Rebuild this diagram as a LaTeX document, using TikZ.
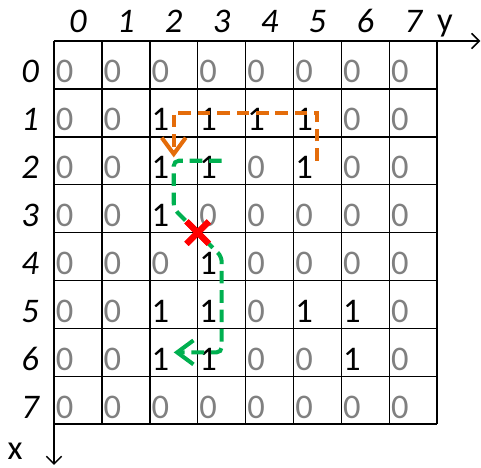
\documentclass[tikz,border=0pt]{standalone}
\usepackage{fontspec}
\setmainfont{Carlito}
\usetikzlibrary{arrows.meta,shapes.misc}
\definecolor{zerogray}{RGB}{128,128,128}
\definecolor{routeorange}{RGB}{228,108,10}
\definecolor{routegreen}{RGB}{0,176,80}

\begin{document}
\begin{tikzpicture}[x=1cm,y=-1cm,
font=\fontsize{20.5}{22}\selectfont,
cell0/.style={anchor=base west, inner sep=0pt, text=zerogray},
cell1/.style={anchor=base west, inner sep=0pt, text=black},
idx/.style={anchor=base, inner sep=0pt, font=\fontsize{20.5}{22}\selectfont\itshape},
route/.style={line width=2.4pt, dash pattern=on 7.5pt off 4pt,
  -{Straight Barb[length=3.4mm,width=5mm]}}]
\useasboundingbox (-1.127,-0.856) rectangle (8.914,8.894);
\draw[line width=0.9pt] (0,0) grid (8,8);
\coordinate (o) at (0,0);
\coordinate (yend) at (8.9,0);
\coordinate (xend) at (0,8.85);
\draw[line width=0.9pt, -{Straight Barb[length=1.6mm,width=3.2mm]}] (o) -- (yend);
\draw[line width=0.9pt, -{Straight Barb[length=1.6mm,width=3.2mm]}] (o) -- (xend);
\node[anchor=base, inner sep=0pt] (ylab) at (8.16,-0.19) {y};
\node[anchor=base, inner sep=0pt] (xlab) at (-0.81,8.74) {x};
\foreach \r/\row in {0/{0,0,0,0,0,0,0,0}, 1/{0,0,1,1,1,1,0,0},
  2/{0,0,1,1,0,1,0,0}, 3/{0,0,1,0,0,0,0,0}, 4/{0,0,0,1,0,0,0,0},
  5/{0,0,1,1,0,1,1,0}, 6/{0,0,1,1,0,0,1,0}, 7/{0,0,0,0,0,0,0,0}}{
  \node[idx] (r\r) at (-0.5,\r+0.87) {\r};
  \node[idx] (c\r) at (\r+0.5,-0.17) {\r};
  \foreach \v [count=\c from 0] in \row {
    \coordinate (p\r\c) at (\c+0.5,\r+0.5);
    \node[cell\v] (v\r\c) at (\c+0.03,\r+0.87) {\v};
  }
}
\node[cross out, draw=red, line width=3.6pt, minimum size=3.4mm, inner sep=0pt] (hit) at (3,4) {};
\draw[route, routeorange, shorten >=2pt] (p25) -- (p15) -- (p12) -- (p22);
\draw[route, routegreen, rounded corners=3pt] (p23) -- (p22) -- (p32) -- (hit.center) -- (p43) -- (p63) -- (p62);
\node[cross out, draw=red, line width=3.6pt, minimum size=3.4mm, inner sep=0pt] at (hit) {};
\end{tikzpicture}
\end{document}
